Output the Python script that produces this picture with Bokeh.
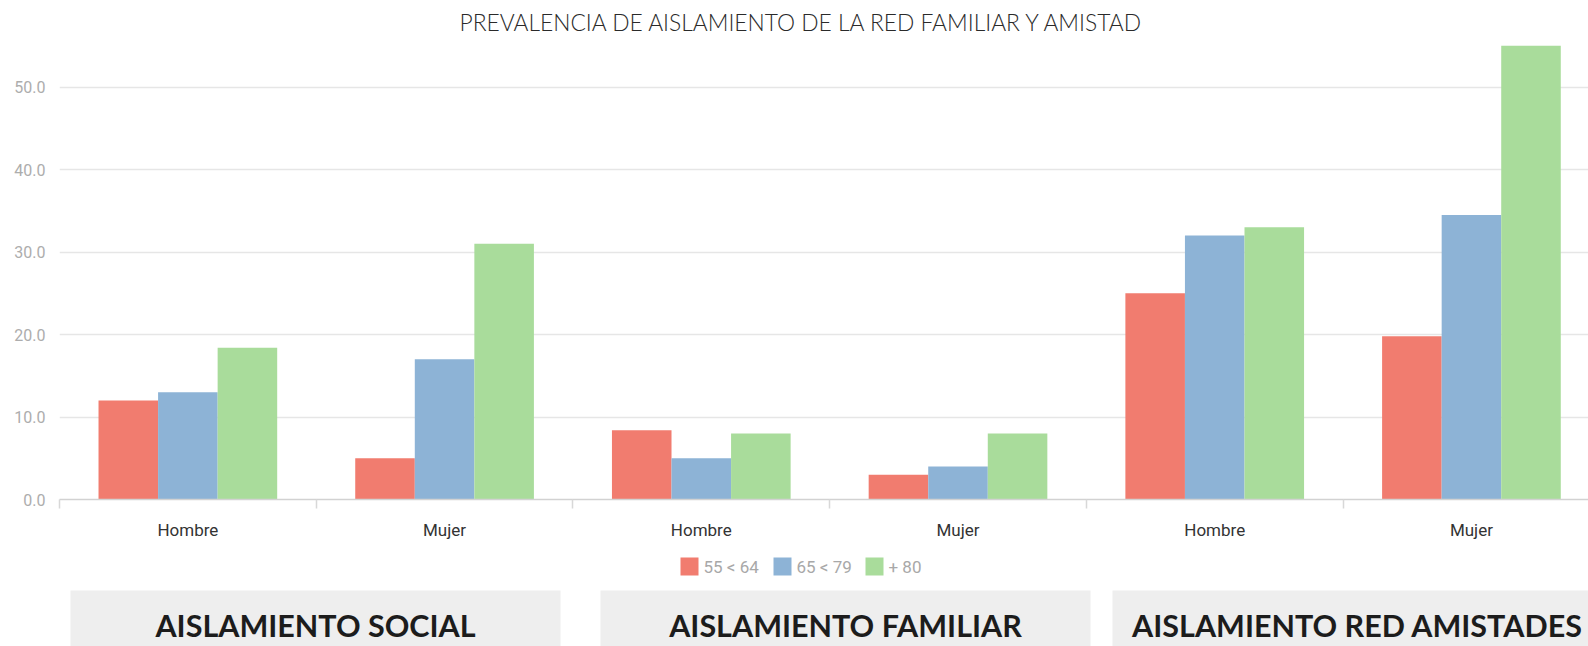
from bokeh.plotting import figure
from bokeh.models import Range1d, FixedTicker, NumeralTickFormatter, ColumnDataSource
from bokeh.layouts import column
from bokeh.embed import file_html
from bokeh.resources import INLINE
from bokeh.core.properties import value
import numpy as np

# ---------------- data ----------------
TITLE = "PREVALENCIA DE AISLAMIENTO DE LA RED FAMILIAR Y AMISTAD"
CATEGORIES = ["Hombre", "Mujer", "Hombre", "Mujer", "Hombre", "Mujer"]
GROUPS = ["AISLAMIENTO SOCIAL", "AISLAMIENTO FAMILIAR", "AISLAMIENTO RED AMISTADES"]
SERIES = ["55 < 64", "65 < 79", "+ 80"]
VAL_55_64 = [12.0, 5.0, 8.4, 3.0, 25.0, 19.8]
VAL_65_79 = [13.0, 17.0, 5.0, 4.0, 32.0, 34.5]
VAL_80 = [18.4, 31.0, 8.0, 8.0, 33.0, 55.0]
Y_TICKS = [0, 10, 20, 30, 40, 50]

# ---------------- style / layout ----------------
COLORS = ["#F17C6F", "#8DB3D6", "#A9DC9B"]
W = 1588
H1 = 545
H2 = 101
LEFT = 59
TOP = 38
BAR_W = 0.232
X_END = 5.956
Y_END = 55.88
BOX_LEFT = np.array([70, 600, 1112])
BOX_W = 490
BOX_TOP = 45
GROUP_TEXT_Y = 79
LEGEND_X = np.array([680, 773, 865])
LEGEND_Y = 21
SWATCH = 18

centers = np.arange(len(CATEGORIES)) + 0.5

p = figure(width=W, height=H1, x_range=Range1d(0, X_END), y_range=Range1d(0, Y_END),
           output_backend="svg", toolbar_location=None,
           min_border_left=LEFT, min_border_right=0, min_border_top=TOP, min_border_bottom=H1 - 499,
           outline_line_color=None, title=TITLE)

p.title.align = "left"
p.title.offset = 400
p.title.standoff = 6
p.title.text_font = "Lato Light"
p.title.text_font_style = "normal"
p.title.text_font_size = "22.8px"
p.title.text_color = "#2a2a2a"

# y axis
p.yaxis.ticker = FixedTicker(ticks=Y_TICKS)
p.yaxis.formatter = NumeralTickFormatter(format="0.0")
p.yaxis.axis_line_color = None
p.yaxis.major_tick_line_color = None
p.yaxis.minor_tick_line_color = None
p.yaxis.major_tick_out = 0
p.yaxis.major_label_standoff = 14
p.yaxis.major_label_text_font = "Roboto"
p.yaxis.major_label_text_font_size = "16px"
p.yaxis.major_label_text_color = "#adadad"

p.ygrid.ticker = FixedTicker(ticks=Y_TICKS)
p.ygrid.grid_line_color = "#e6e6e6"
p.ygrid.grid_line_width = 1.5
p.xgrid.visible = False

# x axis: ticks between categories, labels at category centres
p.xaxis.ticker = FixedTicker(ticks=list(centers), minor_ticks=list(range(len(CATEGORIES) + 1)))
p.xaxis.major_label_overrides = {float(c): lab for c, lab in zip(centers, CATEGORIES)}
p.xaxis.axis_line_color = "#d2d2d2"
p.xaxis.axis_line_width = 1.5
p.xaxis.major_tick_line_color = None
p.xaxis.major_tick_out = 0
p.xaxis.major_tick_in = 0
p.xaxis.minor_tick_line_color = "#d8d8d8"
p.xaxis.minor_tick_line_width = 1.5
p.xaxis.minor_tick_in = 0
p.xaxis.minor_tick_out = 9
p.xaxis.major_label_standoff = 11
p.xaxis.major_label_text_font = "Roboto"
p.xaxis.major_label_text_font_size = "17px"
p.xaxis.major_label_text_color = "#333333"

offsets = [-BAR_W, 0.0, BAR_W]
for name, vals, col, off in zip(SERIES, [VAL_55_64, VAL_65_79, VAL_80], COLORS, offsets):
    src = ColumnDataSource(dict(x=centers + off, top=vals))
    p.vbar(x="x", top="top", width=BAR_W, source=src, fill_color=col, line_color=None)

# lower strip: legend + panels with the group names (x, y in canvas pixels, y downwards)
p2 = figure(width=W, height=H2, x_range=Range1d(LEFT, W), y_range=Range1d(H2, 0),
            output_backend="svg", toolbar_location=None, min_border=0,
            min_border_left=LEFT, min_border_right=0,
            x_axis_location=None, y_axis_location=None, outline_line_color=None)
p2.xgrid.visible = False
p2.ygrid.visible = False

# legend
p2.quad(left=LEGEND_X, right=LEGEND_X + SWATCH, top=LEGEND_Y - SWATCH / 2, bottom=LEGEND_Y + SWATCH / 2,
        fill_color=COLORS, line_color=None)
p2.text(x=LEGEND_X + SWATCH + 5, y=[LEGEND_Y] * 3, text=SERIES, text_align="left", text_baseline="middle",
        text_font=value("Roboto"), text_font_size="17px", text_color="#a8a8a8")

# group panels
p2.quad(left=BOX_LEFT, right=BOX_LEFT + BOX_W, top=BOX_TOP, bottom=H2, fill_color="#eeeeee", line_color=None)
p2.text(x=BOX_LEFT + BOX_W / 2, y=GROUP_TEXT_Y, text=GROUPS, text_align="center", text_baseline="middle",
        text_font=value("Lato"), text_font_style="bold", text_font_size="30.5px", text_color="#1c1c1c")

layout = column(p, p2, spacing=0)
open("out.html", "w").write(file_html(layout, INLINE))
